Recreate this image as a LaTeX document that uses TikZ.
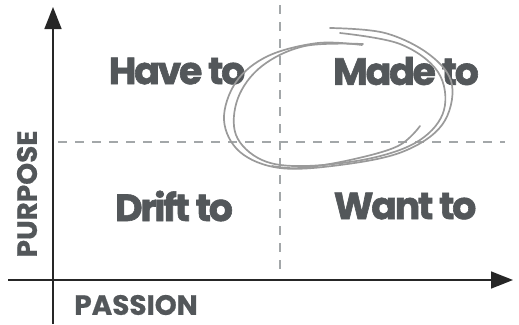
\documentclass[tikz,border=0pt]{standalone}
\usepackage{fontspec}
\setmainfont{Poppins}
\usetikzlibrary{arrows.meta}
\definecolor{txtgray}{HTML}{53575A}
\definecolor{dashgray}{HTML}{A3A7A9}
\definecolor{loopgray}{HTML}{9A9A9A}
\tikzset{
  quad/.style={text=txtgray,font=\fontsize{38}{38}\selectfont\bfseries\addfontfeatures{LetterSpace=-6,FakeBold=1.6},inner sep=0pt,anchor=center},
  axlabel/.style={text=txtgray,font=\fontsize{28}{28}\selectfont\bfseries\addfontfeatures{FakeBold=0.6},inner sep=0pt,anchor=center},
  axis/.style={line width=1.6bp,black!85,-{Triangle[length=22bp,width=17bp]}},
  guide/.style={draw=dashgray,line width=1.6bp,dash pattern=on 9bp off 8bp},
  sketch/.style={draw=loopgray,line width=1.7bp,line cap=round},
}
\begin{document}
\begin{tikzpicture}[x=1bp,y=-1bp]
\useasboundingbox (0,0) rectangle (519,324);
\coordinate (vb) at (53,324);
\coordinate (vt) at (53,7);
\coordinate (hl) at (8,280);
\coordinate (hr) at (513,280);
\coordinate (dl) at (58,142);
\coordinate (dr) at (505,142);
\coordinate (dt) at (280,5);
\coordinate (db) at (280,277);
\draw[guide] (dl) -- (dr);
\draw[guide] (dt) -- (db);
\draw[axis] (vb) -- (vt);
\draw[axis] (hl) -- (hr);
\node[quad] (have) at (177,71) {Have to};
\node[quad] (made) at (406,71) {Made to};
\node[quad] (drift) at (174,206) {Drift to};
\node[quad] (want) at (405,206) {Want to};
\node[axlabel,rotate=90] (purpose) at (27,194) {PURPOSE};
\node[axlabel] (passion) at (136,305) {PASSION};
\draw[sketch] plot[smooth,tension=0.6] coordinates {(330,28) (385,33) (430,55) (452,85) (442,125) (402,152) (340,165) (280,168) (240,152) (224,120) (236,82) (268,56) (318,43) (362,45)};
\draw[sketch] plot[smooth,tension=0.6] coordinates {(340,33) (400,44) (438,72) (444,110) (420,140) (372,158) (305,166) (262,160) (236,135) (238,98) (262,66) (305,46) (363,44)};
\draw[sketch] plot[smooth,tension=0.6] coordinates {(420,126) (398,146) (350,160) (300,168) (272,166)};
\end{tikzpicture}
\end{document}
